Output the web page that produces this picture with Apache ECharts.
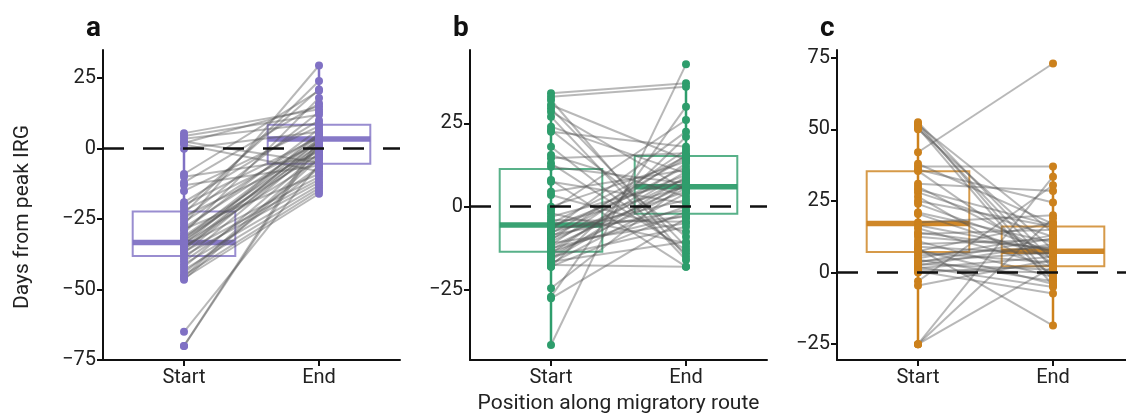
<!DOCTYPE html>
<html>
<head>
<meta charset="utf-8">
<script src="https://cdn.jsdelivr.net/npm/echarts@6/dist/echarts.min.js"></script>
<style>
html, body { margin: 0; padding: 0; background: #fff; }
#grafico { width: 1126px; height: 417px; }
</style>
</head>
<body>
<div id="grafico"></div>
<script>
var categorias = ['Start', 'End'];

// painel a (pares: inicio -> fim)
var startA = [5.5, 4.5, 3.5, 2.5, 2, 1.5, 0, -9, -10, -12, -13, -15, -19, -20, -21, -22, -23, -24, -25, -26,
    -27, -28, -28.5, -29, -30, -31, -31.5, -32, -32.5, -33, -33.5, -34, -34.5, -35, -35.5, -36, -36.5, -37, -38, -39,
    -40, -41, -42, -43, -44, -45, -45.5, -46, -46.5, -65, -70, -70];
var endA = [14, 12, 9, -5, 15, -8, 6, 20.5, -3, 16, -6, 8, 10, 4, 21, 2, 24, -1, 13, 5,
    29.5, 3, -9, 7, 18, 1, -2, 4.5, 0, 3.5, -4, 5.5, -10, 2.5, -0.5, 3, -11, 1.5, -12, 0.5,
    -6.5, -13, -1.5, -14, -7, -15, -2.5, -16, -3.5, -5.5, 3.5, 2];
// [q1, mediana, q3, bigode inferior, bigode superior]
var boxStartA = [-38.1, -33.3, -22.3, -46.5, 5.5];
var boxEndA = [-5.4, 3.4, 8.5, -16, 29.5];
var ticksA = [-75, -50, -25, 0, 25];

// painel b
var startB = [34, 33, 32, 30.5, 29.5, 28.5, 27, 24, 23, 22.5, 18, 15.5, 14.5, 13, 12, 8, 7.5, 4.5, 3.5, 0,
    -1, -3, -4, -5, -5.5, -6, -7, -7.5, -8, -8.5, -9, -9.5, -10, -10.5, -11, -11.5, -12, -12.5, -13, -13.5,
    -14, -14.5, -15, -15.5, -16, -16.5, -17, -17.5, -18, -18, -24.5, -27, -27.5, -41.5, -2, -6.5];
var endB = [37, 36, -15, 14, -12, 5, -16, 10, -9, 18, -14, 3, 16, -13, 7, -18, 1, 11, -7.5, 13.5,
    26, 8, -4.5, 15, 6, 9.5, 22.5, 2, 14.5, -1, 12, 4.5, 17, 8.5, -5, 15.5, 6.5, -2.5, 10.5, 0,
    13, 5.5, -6, 9, 7.5, -10.5, 4, -18, 21, -1.5, 7, 30, -3.5, 42.7, -11, -3];
var boxStartB = [-13.5, -5.5, 11.3, -41.5, 34];
var boxEndB = [-2.1, 6.0, 15.2, -18.4, 37];
var ticksB = [-25, 0, 25];

// painel c
var startC = [52.5, 52, 51.5, 51, 50.5, 50, 42, 38, 37, 36, 35.5, 31, 30, 28, 26.5, 25, 21, 20.5, 17.5, 16.5,
    15.5, 13.5, 12.5, 11, 10, 9, 8.5, 7.5, 7, 6, 5, 4.5, 4, 3, 2.5, 2, 1.5, 1, 0.5, 0,
    -3, -4.5, -25, -25, -25, 14, 29, 24, 8, 3.5];
var endC = [4, -2.5, 14, 1.5, -4.5, 8, 73, 17, 37, 24.5, 3, 28.5, 6, 12.5, -0.5, 16, 10.5, 5, 20, 7.5,
    2, 15, 8.5, -1.5, 11.5, 6.5, -18.5, 17.5, 3.5, 9, 13, -3, 7, 1, 10, -5, 5.5, 0, -7.3, 2.5,
    30.5, 4.5, 33.5, 19, 2, 8, 16.5, 7, -4, 12];
var boxStartC = [7.2, 17.1, 35.4, -25, 52.5];
var boxEndC = [2.2, 7.5, 16.1, -18.8, 37];
var ticksC = [-25, 0, 25, 50, 75];

var cores = ['#8071c4', '#2e9d6c', '#cc811c'];
var fonte = 'Roboto, "Noto Sans", sans-serif';

var paineis = [
    { start: startA, end: endA, boxS: boxStartA, boxE: boxEndA, ticks: ticksA, min: -75, max: 35, left: 103, letra: 'a' },
    { start: startB, end: endB, boxS: boxStartB, boxE: boxEndB, ticks: ticksB, min: -46, max: 47, left: 470, letra: 'b' },
    { start: startC, end: endC, boxS: boxStartC, boxE: boxEndC, ticks: ticksC, min: -30.5, max: 77.7, left: 837, letra: 'c' }
];

function desenhaCaixa(cor) {
    return function (params, api) {
        var x = api.value(0), q1 = api.value(1), med = api.value(2), q3 = api.value(3), lo = api.value(4), hi = api.value(5);
        var tl = api.coord([x - 0.38, q3]);
        var br = api.coord([x + 0.38, q1]);
        var ml = api.coord([x - 0.38, med]);
        var mr = api.coord([x + 0.38, med]);
        var wt = api.coord([x, hi]);
        var wb = api.coord([x, lo]);
        return {
            type: 'group',
            children: [
                { type: 'line', shape: { x1: wt[0], y1: wt[1], x2: wb[0], y2: wb[1] }, style: { stroke: cor, lineWidth: 2.5 } },
                { type: 'rect', shape: { x: tl[0], y: tl[1], width: br[0] - tl[0], height: br[1] - tl[1] },
                    style: { fill: 'none', stroke: cor, lineWidth: 2, opacity: 0.8 } },
                { type: 'line', shape: { x1: ml[0], y1: ml[1], x2: mr[0], y2: mr[1] }, style: { stroke: cor, lineWidth: 5.5, opacity: 0.95 } }
            ]
        };
    };
}

function desenhaPar(params, api) {
    var p1 = api.coord([1, api.value(0)]);
    var p2 = api.coord([2, api.value(1)]);
    return { type: 'line', shape: { x1: p1[0], y1: p1[1], x2: p2[0], y2: p2[1] },
        style: { stroke: '#555', lineWidth: 2, opacity: 0.42 } };
}

var grids = [], xAxes = [], yAxes = [], series = [], titulos = [];

paineis.forEach(function (p, i) {
    var cor = cores[i];
    grids.push({ left: p.left, top: 50, width: 297, height: 310, outerBoundsMode: 'none', containLabel: false });
    xAxes.push({
        type: 'value', gridIndex: i, min: 0.4, max: 2.6,
        splitLine: { show: false },
        axisLine: { show: true, onZero: false, lineStyle: { color: '#111', width: 2 } },
        axisTick: { show: true, length: 6, lineStyle: { color: '#111', width: 2 }, customValues: [1, 2] },
        axisLabel: { customValues: [1, 2], color: '#222', fontSize: 20, fontFamily: fonte, margin: 8,
            formatter: function (v) { return categorias[Math.round(v) - 1]; } },
        name: i == 1 ? 'Position along migratory route' : '',
        nameLocation: 'middle', nameGap: 33,
        nameTextStyle: { color: '#222', fontSize: 21, fontFamily: fonte }
    });
    yAxes.push({
        type: 'value', gridIndex: i, min: p.min, max: p.max,
        splitLine: { show: false },
        axisLine: { show: true, lineStyle: { color: '#111', width: 2 } },
        axisTick: { show: true, length: 6, lineStyle: { color: '#111', width: 2 }, customValues: p.ticks },
        axisLabel: { customValues: p.ticks, color: '#222', fontSize: 20, fontFamily: fonte, margin: 7,
            formatter: function (v) { return String(v).replace('-', '\u2212'); } }
    });

    series.push({
        type: 'custom', xAxisIndex: i, yAxisIndex: i, z: 1,
        renderItem: desenhaCaixa(cor),
        encode: { x: 0, y: [1, 2, 3, 4, 5] },
        data: [[1].concat(p.boxS), [2].concat(p.boxE)],
        silent: true
    });

    var pares = p.start.map(function (s, k) { return [s, p.end[k]]; });
    series.push({
        type: 'custom', xAxisIndex: i, yAxisIndex: i, z: 2,
        renderItem: desenhaPar,
        encode: { x: -1, y: [0, 1] },
        data: pares,
        silent: true
    });

    series.push({
        type: 'line', xAxisIndex: i, yAxisIndex: i, z: 3,
        data: [], silent: true,
        markLine: {
            silent: true, symbol: 'none', label: { show: false },
            lineStyle: { color: '#111', width: 2.5, type: [21, 19] },
            data: [{ yAxis: 0 }]
        }
    });

    var pontos = p.start.map(function (s) { return [1, s]; }).concat(p.end.map(function (e) { return [2, e]; }));
    series.push({
        type: 'scatter', xAxisIndex: i, yAxisIndex: i, z: 4,
        symbolSize: 8,
        itemStyle: { color: cor, opacity: 1 },
        data: pontos,
        silent: true
    });

    titulos.push({
        text: p.letra, left: p.left - 22, top: 10,
        textStyle: { fontSize: 28, fontWeight: 'bold', color: '#111', fontFamily: fonte }
    });
});

var myChart = echarts.init(document.getElementById('grafico'));
myChart.setOption({
    animation: false,
    title: titulos,
    grid: grids,
    xAxis: xAxes,
    yAxis: yAxes,
    series: series,
    graphic: [{
        type: 'text', x: 23, y: 217, rotation: Math.PI / 2,
        style: { text: 'Days from peak IRG', fill: '#222', fontSize: 21, fontFamily: fonte,
            align: 'center', verticalAlign: 'middle' }
    }]
});
</script>
</body>
</html>
